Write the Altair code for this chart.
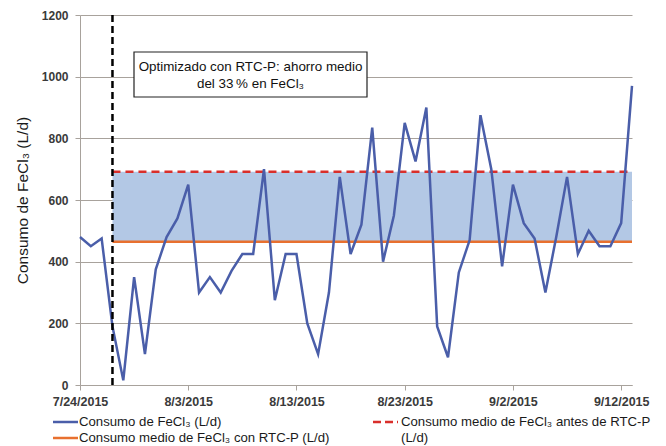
import altair as alt
import pandas as pd

# ---- data ----
dates = [
    "2015-07-24", "2015-07-25", "2015-07-26", "2015-07-27", "2015-07-28", "2015-07-29",
    "2015-07-30", "2015-07-31", "2015-08-01", "2015-08-02", "2015-08-03", "2015-08-04",
    "2015-08-05", "2015-08-06", "2015-08-07", "2015-08-08", "2015-08-09", "2015-08-10",
    "2015-08-11", "2015-08-12", "2015-08-13", "2015-08-14", "2015-08-15", "2015-08-16",
    "2015-08-17", "2015-08-18", "2015-08-19", "2015-08-20", "2015-08-21", "2015-08-22",
    "2015-08-23", "2015-08-24", "2015-08-25", "2015-08-26", "2015-08-27", "2015-08-28",
    "2015-08-29", "2015-08-30", "2015-08-31", "2015-09-01", "2015-09-02", "2015-09-03",
    "2015-09-04", "2015-09-05", "2015-09-06", "2015-09-07", "2015-09-08", "2015-09-09",
    "2015-09-10", "2015-09-11", "2015-09-12", "2015-09-13",
]
consumo = [
    480, 450, 475, 190, 15, 350,
    100, 375, 480, 540, 650, 300,
    350, 300, 370, 425, 425, 700,
    275, 425, 425, 200, 100, 300,
    675, 425, 520, 835, 400, 550,
    850, 725, 900, 190, 90, 365,
    470, 875, 700, 385, 650, 525,
    475, 300, 480, 675, 425, 500,
    450, 450, 525, 970,
]
rtc_start = "2015-07-27"
period_end = "2015-09-13"
media_antes = 692
media_con = 465

y_ticks = [0, 200, 400, 600, 800, 1000, 1200]
x_tick_dates = [(2015, 7, 24), (2015, 8, 3), (2015, 8, 13), (2015, 8, 23), (2015, 9, 2), (2015, 9, 12)]

y_title = "Consumo de FeCl\u2083 (L/d)"
annot_lines = ["Optimizado con RTC-P: ahorro medio", "del 33\u2009% en FeCl\u2083"]
leg_consumo = "Consumo de FeCl\u2083 (L/d)"
leg_con = "Consumo medio de FeCl\u2083 con RTC-P (L/d)"
leg_antes = ["Consumo medio de FeCl\u2083 antes de RTC-P", "(L/d)"]

FONT = "Liberation Sans"
BLUE = "#4a5ea9"
RED = "#d92f2b"
ORANGE = "#e8702f"
BAND = "#b3c8e5"
GRID = "#a8a29c"

df = pd.DataFrame({"date": dates, "value": consumo})
band_df = pd.DataFrame({"start": [rtc_start], "end": [period_end], "lo": [media_con], "hi": [media_antes]})
antes_df = pd.DataFrame({"start": [rtc_start], "end": [period_end], "value": [media_antes]})
con_df = pd.DataFrame({"start": [rtc_start], "end": [period_end], "value": [media_con]})
vline_df = pd.DataFrame({"date": [rtc_start]})

xscale = alt.Scale(
    type="utc",
    domain=[alt.DateTime(year=2015, month=7, date=24, utc=True),
            alt.DateTime(year=2015, month=9, date=13, utc=True)],
)
yscale = alt.Scale(domain=[0, 1200], nice=False)

xaxis = alt.Axis(
    title=None,
    values=[alt.DateTime(year=y, month=m, date=d, utc=True) for (y, m, d) in x_tick_dates],
    labelExpr="utcFormat(datum.value, '%-m/%-d/%Y')",
    grid=False,
    domainColor=GRID,
    tickColor=GRID,
    tickSize=5,
    labelPadding=5,
    labelFont=FONT,
    labelFontSize=12.5,
    labelFontWeight="bold",
    labelColor="#3a3a3a",
    labelFlush=False,
    labelOverlap=False,
)
yaxis = alt.Axis(
    title=y_title,
    values=y_ticks,
    format="d",
    grid=True,
    gridColor=GRID,
    gridWidth=1,
    domainColor=GRID,
    tickColor=GRID,
    tickSize=5,
    labelPadding=7,
    labelFont=FONT,
    labelFontSize=12,
    labelFontWeight="bold",
    labelColor="#3a3a3a",
    titleFont=FONT,
    titleFontSize=15.5,
    titleFontWeight="normal",
    titleColor="#1a1a1a",
    titleX=-58,
    titleY=185,
    titleAngle=270,
    titleAlign="center",
    titleBaseline="middle",
)

band = alt.Chart(band_df).mark_rect(color=BAND, opacity=1).encode(
    x=alt.X("start:T", scale=xscale, axis=xaxis),
    x2="end:T",
    y=alt.Y("lo:Q", scale=yscale, axis=yaxis),
    y2="hi:Q",
)
line_con = alt.Chart(con_df).mark_rule(color=ORANGE, strokeWidth=2.5).encode(
    x=alt.X("start:T", scale=xscale), x2="end:T", y=alt.Y("value:Q", scale=yscale)
)
line_antes = alt.Chart(antes_df).mark_rule(color=RED, strokeWidth=2.5, strokeDash=[8, 5]).encode(
    x=alt.X("start:T", scale=xscale), x2="end:T", y=alt.Y("value:Q", scale=yscale)
)
main = alt.Chart(df).mark_line(color=BLUE, strokeWidth=2.5).encode(
    x=alt.X("date:T", scale=xscale), y=alt.Y("value:Q", scale=yscale)
)
vline = alt.Chart(vline_df).mark_rule(color="black", strokeWidth=2.5, strokeDash=[7, 4]).encode(
    x=alt.X("date:T", scale=xscale)
)

one = pd.DataFrame({"k": [0]})

# annotation box (pixel offsets relative to the plot area)
box = alt.Chart(one).mark_rect(fill="white", stroke="#222222", strokeWidth=1.2).encode(
    x=alt.value(54), x2=alt.value(287), y=alt.value(37), y2=alt.value(82)
)
annot1 = alt.Chart(pd.DataFrame({"t": [annot_lines[0]]})).mark_text(
    font=FONT, fontSize=13.4, color="#111111", align="center", baseline="middle"
).encode(x=alt.value(170.5), y=alt.value(52), text="t:N")
annot2 = alt.Chart(pd.DataFrame({"t": [annot_lines[1]]})).mark_text(
    font=FONT, fontSize=13.4, color="#111111", align="center", baseline="middle"
).encode(x=alt.value(170.5), y=alt.value(68.5), text="t:N")

# manual legend below the axis
def leg_rule(color, x0, y, dash=None):
    kw = dict(color=color, strokeWidth=2.5)
    if dash:
        kw["strokeDash"] = dash
    return alt.Chart(one).mark_rule(**kw).encode(
        x=alt.value(x0), x2=alt.value(x0 + 25), y=alt.value(y)
    )

def leg_text(label, x0, y):
    return alt.Chart(pd.DataFrame({"t": [label]})).mark_text(
        font=FONT, fontSize=13.2, color="#1a1a1a", align="left", baseline="middle"
    ).encode(x=alt.value(x0), y=alt.value(y), text="t:N")

legend_layers = [
    leg_rule(BLUE, -27, 407), leg_text(leg_consumo, -1, 407),
    leg_rule(ORANGE, -27, 423), leg_text(leg_con, -1, 423),
    leg_rule(RED, 293, 407, [8, 4]), leg_text(leg_antes[0], 321, 407),
    leg_text(leg_antes[1], 321, 422.5),
]

chart = alt.layer(
    band, line_con, line_antes, main, vline, box, annot1, annot2, *legend_layers
).properties(
    width=552,
    height=370,
    autosize=alt.AutoSizeParams(type="none"),
    padding={"left": 72, "top": 7, "right": 24, "bottom": 61},
).configure_view(stroke=None).configure_axis(domainWidth=1)

chart.save("out.html", embed_options={"renderer": "svg", "actions": False})
